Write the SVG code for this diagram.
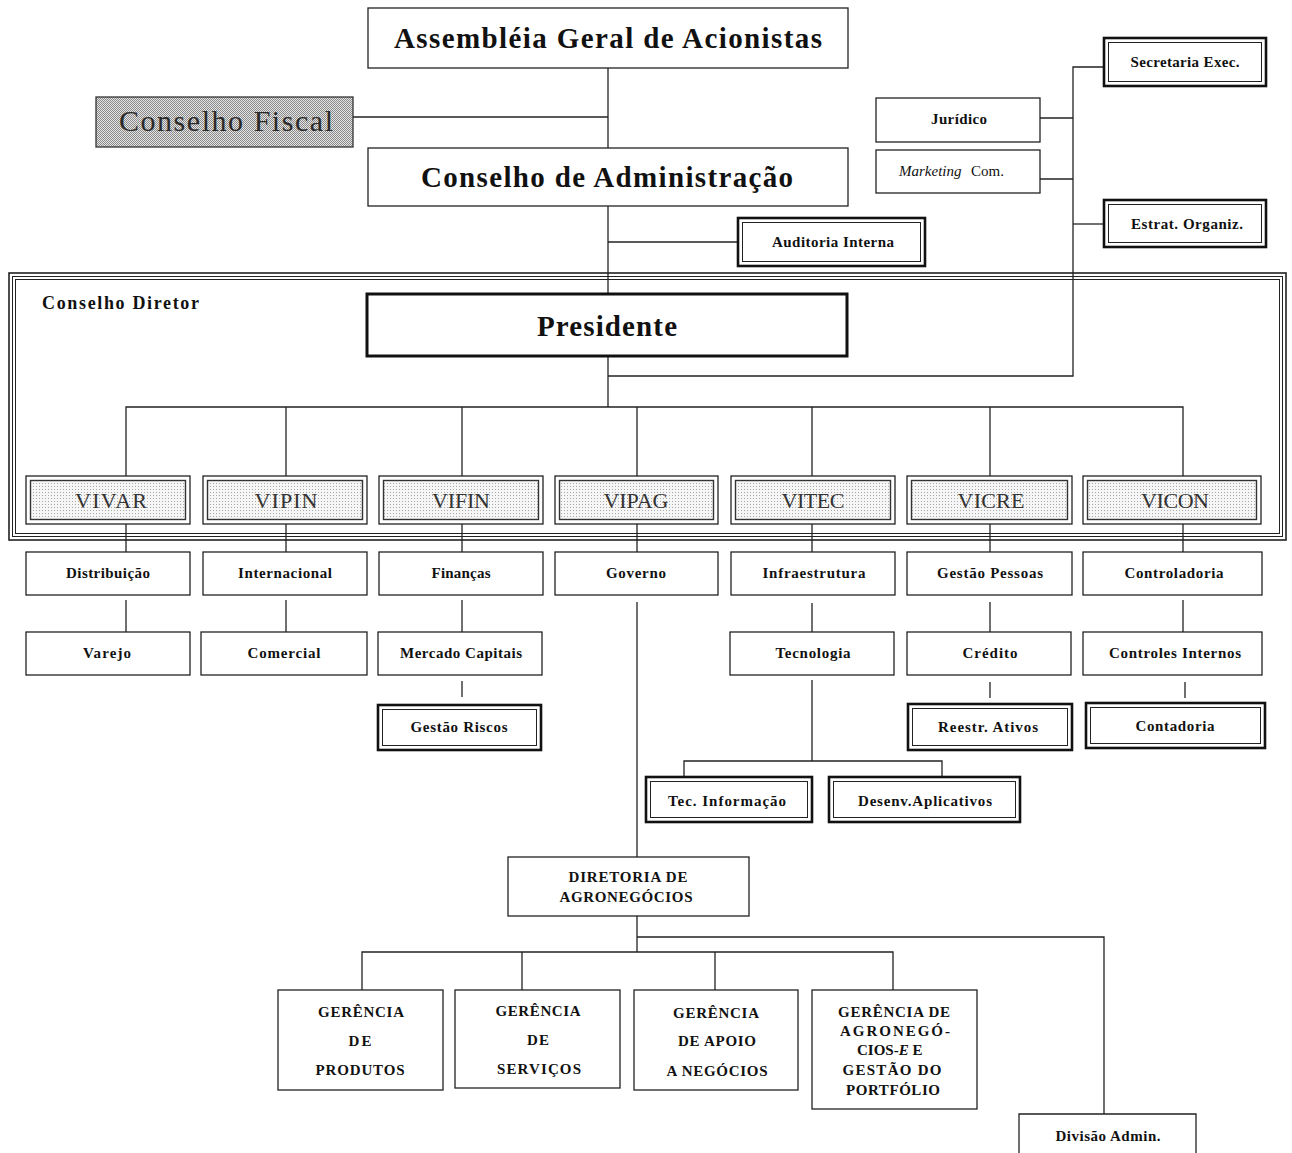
<svg xmlns="http://www.w3.org/2000/svg" width="1292" height="1153" viewBox="0 0 1292 1153">
<defs>
<pattern id="dense" patternUnits="userSpaceOnUse" width="2" height="2">
<rect width="2" height="2" fill="#e4e4e4"/>
<rect width="1" height="1" fill="#8a8a8a"/>
<rect x="1" y="1" width="1" height="1" fill="#8a8a8a"/>
</pattern>
<pattern id="sparse" patternUnits="userSpaceOnUse" width="3" height="3">
<rect width="3" height="3" fill="#f6f6f6"/>
<rect width="1" height="1" fill="#a8a8a8"/>
</pattern>
<style>
.box{fill:#fff;stroke:#222;stroke-width:1.3}
.thick{fill:#fff;stroke:#111;stroke-width:2.6}
.inner{fill:none;stroke:#222;stroke-width:1}
.vi{fill:url(#sparse);stroke:#333;stroke-width:1.4}
.t{font-family:"Liberation Serif","Times New Roman",serif;font-weight:bold;font-size:15px;fill:#111;text-anchor:middle}
.ts{font-family:"Liberation Serif","Times New Roman",serif;font-weight:bold;font-size:15px;fill:#111;text-anchor:start}
.big{font-family:"Liberation Serif","Times New Roman",serif;font-weight:bold;font-size:29px;fill:#111;text-anchor:middle}
.vt{font-family:"Liberation Serif","Times New Roman",serif;font-size:22px;fill:#333;text-anchor:middle}
.conn line,.conn path{stroke:#222;stroke-width:1.3;fill:none}
.frame{fill:none;stroke:#222}
</style>
</defs>
<rect width="1292" height="1153" fill="#fff"/>

<g id="conselho-diretor-frame">
<rect class="frame" x="9" y="273" width="1277" height="267" stroke-width="1.6"/>
<rect class="frame" x="12.5" y="276.5" width="1270" height="260" stroke-width="1"/>
<rect class="frame" x="15.5" y="279.5" width="1264" height="254" stroke-width="1"/>
<text x="42" y="309" font-family="Liberation Serif, Times New Roman, serif" font-weight="bold" font-size="18" fill="#111" textLength="157">Conselho Diretor</text>
</g>

<g class="conn" id="connectors">
<line x1="608" y1="68" x2="608" y2="148"/>
<line x1="353" y1="117" x2="608" y2="117"/>
<line x1="608" y1="206" x2="608" y2="293"/>
<line x1="608" y1="242" x2="738" y2="242"/>
<line x1="608" y1="356" x2="608" y2="407"/>
<path d="M608 376 H1073 V67 H1104"/>
<line x1="1040" y1="118" x2="1073" y2="118"/>
<line x1="1040" y1="179" x2="1073" y2="179"/>
<line x1="1073" y1="224" x2="1104" y2="224"/>
<path d="M126 476 V407 H1183 V476"/>
<line x1="286" y1="407" x2="286" y2="476"/>
<line x1="462" y1="407" x2="462" y2="476"/>
<line x1="637" y1="407" x2="637" y2="476"/>
<line x1="812" y1="407" x2="812" y2="476"/>
<line x1="990" y1="407" x2="990" y2="476"/>
<line x1="126" y1="520" x2="126" y2="552"/>
<line x1="286" y1="520" x2="286" y2="552"/>
<line x1="462" y1="520" x2="462" y2="552"/>
<line x1="637" y1="520" x2="637" y2="552"/>
<line x1="812" y1="520" x2="812" y2="552"/>
<line x1="990" y1="520" x2="990" y2="552"/>
<line x1="1183" y1="520" x2="1183" y2="552"/>
<line x1="126" y1="600" x2="126" y2="632"/>
<line x1="286" y1="600" x2="286" y2="632"/>
<line x1="462" y1="600" x2="462" y2="632"/>
<line x1="812" y1="603" x2="812" y2="632"/>
<line x1="990" y1="602" x2="990" y2="632"/>
<line x1="1183" y1="600" x2="1183" y2="632"/>
<line x1="637" y1="602" x2="637" y2="857"/>
<line x1="462" y1="681" x2="462" y2="697"/>
<line x1="990" y1="682" x2="990" y2="698"/>
<line x1="1185" y1="682" x2="1185" y2="698"/>
<path d="M812 680 V761"/>
<path d="M684 777 V761 H942 V777"/>
<line x1="637" y1="916" x2="637" y2="952"/>
<path d="M362 990 V952 H893 V990"/>
<line x1="522" y1="952" x2="522" y2="990"/>
<line x1="715" y1="952" x2="715" y2="990"/>
<path d="M637 937 H1104 V1114"/>
</g>

<g id="assembleia">
<rect class="box" x="368" y="8" width="480" height="60"/>
<text class="big" x="608" y="48" textLength="428">Assembléia Geral de Acionistas</text>
</g>
<g id="conselho-fiscal">
<rect x="96" y="97" width="257" height="50" fill="url(#dense)" stroke="#333" stroke-width="1.3"/>
<text x="226" y="131" font-family="Liberation Serif, Times New Roman, serif" font-size="30" fill="#2a2a2a" text-anchor="middle" textLength="214">Conselho Fiscal</text>
</g>
<g id="conselho-admin">
<rect class="box" x="368" y="148" width="480" height="58"/>
<text class="big" x="607" y="187" textLength="372">Conselho de Administração</text>
</g>
<g id="auditoria">
<rect class="thick" x="738" y="218" width="187" height="48"/>
<rect class="inner" x="742.5" y="222.5" width="178" height="39"/>
<text class="t" x="833" y="247" textLength="122">Auditoria Interna</text>
</g>
<g id="juridico">
<rect class="box" x="876" y="98" width="164" height="44"/>
<text class="t" x="959" y="124" textLength="56">Jurídico</text>
</g>
<g id="marketing">
<rect class="box" x="876" y="150" width="164" height="43"/>
<text class="ts" x="899" y="176"><tspan font-style="italic" font-weight="normal">Marketing</tspan><tspan x="971" font-weight="normal">Com.</tspan></text>
</g>
<g id="secretaria">
<rect class="thick" x="1104" y="38" width="162" height="48"/>
<rect class="inner" x="1108.5" y="42.5" width="153" height="39"/>
<text class="t" x="1185" y="67" textLength="109">Secretaria Exec.</text>
</g>
<g id="estrat">
<rect class="thick" x="1104" y="200" width="162" height="47"/>
<rect class="inner" x="1108.5" y="204.5" width="153" height="38"/>
<text class="t" x="1187" y="229" textLength="112">Estrat. Organiz.</text>
</g>
<g id="presidente">
<rect x="367" y="294" width="480" height="62" fill="#fff" stroke="#111" stroke-width="3"/>
<text class="big" x="607" y="336" font-size="30" textLength="140">Presidente</text>
</g>

<g id="vivar"><rect class="box" x="26" y="476" width="164" height="48"/><rect class="vi" x="30.5" y="480.5" width="155" height="39"/><text class="vt" x="111" y="508" textLength="72">VIVAR</text></g>
<g id="vipin"><rect class="box" x="203" y="476" width="164" height="48"/><rect class="vi" x="207.5" y="480.5" width="155" height="39"/><text class="vt" x="286" y="508" textLength="63">VIPIN</text></g>
<g id="vifin"><rect class="box" x="379" y="476" width="164" height="48"/><rect class="vi" x="383.5" y="480.5" width="155" height="39"/><text class="vt" x="461" y="508" textLength="58">VIFIN</text></g>
<g id="vipag"><rect class="box" x="555" y="476" width="163" height="48"/><rect class="vi" x="559.5" y="480.5" width="154" height="39"/><text class="vt" x="636" y="508" textLength="65">VIPAG</text></g>
<g id="vitec"><rect class="box" x="731" y="476" width="164" height="48"/><rect class="vi" x="735.5" y="480.5" width="155" height="39"/><text class="vt" x="813" y="508" textLength="63">VITEC</text></g>
<g id="vicre"><rect class="box" x="907" y="476" width="165" height="48"/><rect class="vi" x="911.5" y="480.5" width="156" height="39"/><text class="vt" x="991" y="508" textLength="67">VICRE</text></g>
<g id="vicon"><rect class="box" x="1083" y="476" width="178" height="48"/><rect class="vi" x="1087.5" y="480.5" width="169" height="39"/><text class="vt" x="1175" y="508" textLength="68">VICON</text></g>

<g id="distribuicao"><rect class="box" x="26" y="552" width="164" height="43"/><text class="t" x="108" y="578" textLength="84">Distribuição</text></g>
<g id="internacional"><rect class="box" x="203" y="552" width="164" height="43"/><text class="t" x="285" y="578" textLength="94">Internacional</text></g>
<g id="financas"><rect class="box" x="379" y="552" width="164" height="43"/><text class="t" x="461" y="578" textLength="59">Finanças</text></g>
<g id="governo"><rect class="box" x="555" y="552" width="163" height="43"/><text class="t" x="636" y="578" textLength="60">Governo</text></g>
<g id="infraestrutura"><rect class="box" x="731" y="552" width="164" height="43"/><text class="t" x="814" y="578" textLength="103">Infraestrutura</text></g>
<g id="gestao-pessoas"><rect class="box" x="907" y="552" width="165" height="43"/><text class="t" x="990" y="578" textLength="106">Gestão Pessoas</text></g>
<g id="controladoria"><rect class="box" x="1083" y="552" width="179" height="43"/><text class="t" x="1174" y="578" textLength="99">Controladoria</text></g>

<g id="varejo"><rect class="box" x="26" y="632" width="164" height="43"/><text class="t" x="107" y="658" textLength="48">Varejo</text></g>
<g id="comercial"><rect class="box" x="201" y="632" width="166" height="43"/><text class="t" x="284" y="658" textLength="73">Comercial</text></g>
<g id="mercado-capitais"><rect class="box" x="378" y="632" width="164" height="43"/><text class="t" x="461" y="658" textLength="122">Mercado Capitais</text></g>
<g id="tecnologia"><rect class="box" x="730" y="632" width="164" height="43"/><text class="t" x="813" y="658" textLength="75">Tecnologia</text></g>
<g id="credito"><rect class="box" x="907" y="632" width="164" height="43"/><text class="t" x="990" y="658" textLength="55">Crédito</text></g>
<g id="controles-internos"><rect class="box" x="1083" y="632" width="179" height="43"/><text class="t" x="1175" y="658" textLength="132">Controles Internos</text></g>

<g id="gestao-riscos"><rect class="thick" x="378" y="705" width="163" height="45"/><rect class="inner" x="382.5" y="709.5" width="154" height="36"/><text class="t" x="459" y="732" textLength="97">Gestão Riscos</text></g>
<g id="reestr-ativos"><rect class="thick" x="908" y="704" width="164" height="46"/><rect class="inner" x="912.5" y="708.5" width="155" height="37"/><text class="t" x="988" y="732" textLength="100">Reestr. Ativos</text></g>
<g id="contadoria"><rect class="thick" x="1086" y="703" width="179" height="45"/><rect class="inner" x="1090.5" y="707.5" width="170" height="36"/><text class="t" x="1175" y="731" textLength="79">Contadoria</text></g>
<g id="tec-informacao"><rect class="thick" x="646" y="777" width="166" height="45"/><rect class="inner" x="650.5" y="781.5" width="157" height="36"/><text class="t" x="727" y="806" textLength="118">Tec. Informação</text></g>
<g id="desenv-aplicativos"><rect class="thick" x="829" y="777" width="191" height="45"/><rect class="inner" x="833.5" y="781.5" width="182" height="36"/><text class="t" x="925" y="806" textLength="134">Desenv.Aplicativos</text></g>

<g id="diretoria-agronegocios">
<rect class="box" x="508" y="857" width="241" height="59"/>
<text class="t" x="628" y="882" textLength="119">DIRETORIA DE</text>
<text class="t" x="626" y="902" textLength="133">AGRONEGÓCIOS</text>
</g>
<g id="ger-produtos">
<rect class="box" x="278" y="990" width="165" height="100"/>
<text class="t" x="361" y="1017" textLength="86">GERÊNCIA</text>
<text class="t" x="360" y="1046" textLength="23">DE</text>
<text class="t" x="360" y="1075" textLength="89">PRODUTOS</text>
</g>
<g id="ger-servicos">
<rect class="box" x="455" y="990" width="165" height="98"/>
<text class="t" x="538" y="1016" textLength="85">GERÊNCIA</text>
<text class="t" x="538" y="1045" textLength="22">DE</text>
<text class="t" x="539" y="1074" textLength="84">SERVIÇOS</text>
</g>
<g id="ger-apoio">
<rect class="box" x="634" y="990" width="164" height="100"/>
<text class="t" x="716" y="1018" textLength="86">GERÊNCIA</text>
<text class="t" x="717" y="1046" textLength="78">DE APOIO</text>
<text class="t" x="717" y="1076" textLength="101">A NEGÓCIOS</text>
</g>
<g id="ger-agronegocios-e">
<rect class="box" x="812" y="990" width="165" height="119"/>
<text class="t" x="894" y="1017" textLength="112">GERÊNCIA DE</text>
<text class="t" x="895" y="1036" textLength="110">AGRONEGÓ-</text>
<text class="ts" x="857" y="1055">CIOS-<tspan font-style="italic">E</tspan> E</text>
<text class="t" x="892" y="1075" textLength="99">GESTÃO DO</text>
<text class="t" x="893" y="1095" textLength="94">PORTFÓLIO</text>
</g>
<g id="divisao-admin">
<path d="M1019 1153 V1114 H1196 V1153" fill="#fff" stroke="#222" stroke-width="1.3"/>
<text class="t" x="1108" y="1141" textLength="105">Divisão Admin.</text>
</g>
</svg>
